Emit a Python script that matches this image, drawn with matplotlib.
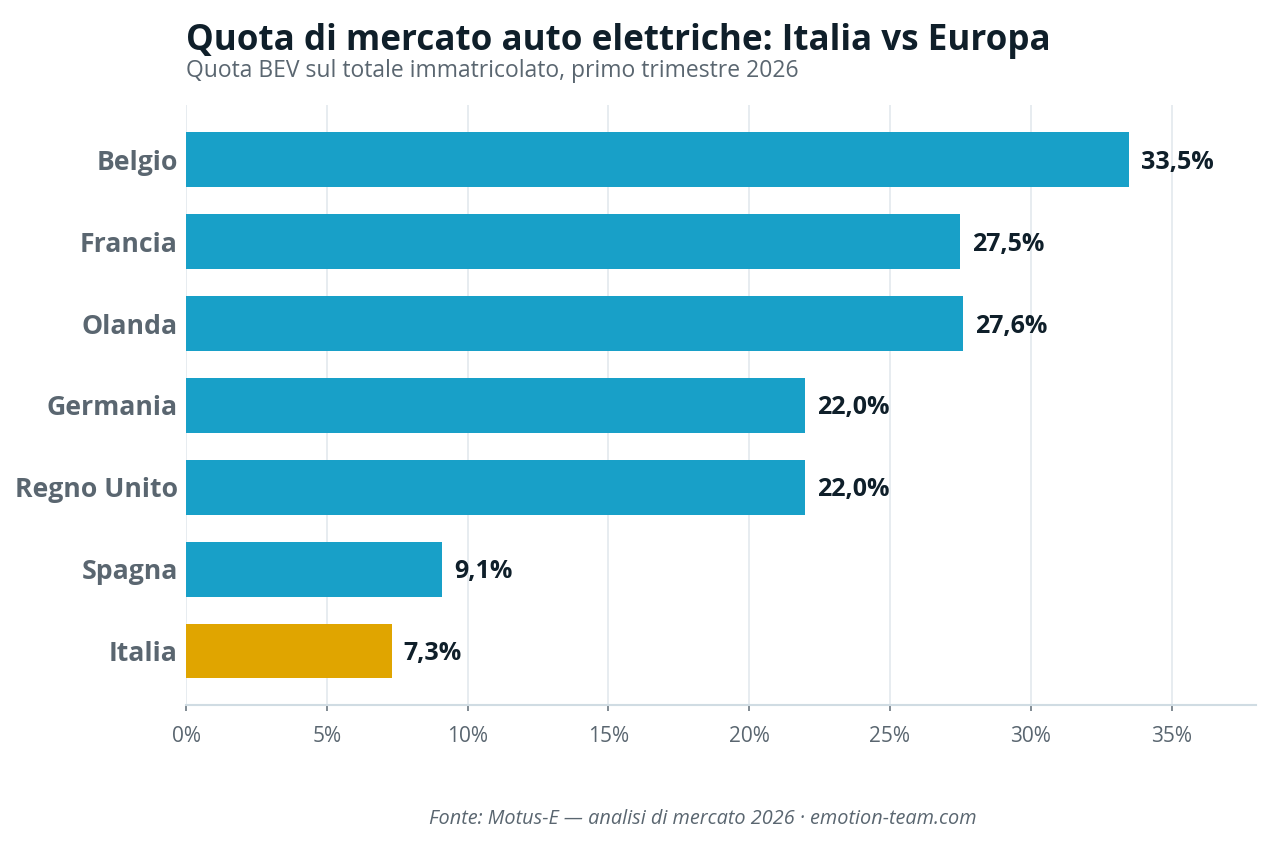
import matplotlib
matplotlib.use("Agg")
import matplotlib.pyplot as plt

categories = ["Belgio", "Francia", "Olanda", "Germania", "Regno Unito", "Spagna", "Italia"]
values = [33.5, 27.5, 27.6, 22.0, 22.0, 9.1, 7.3]
value_labels = ["33,5%", "27,5%", "27,6%", "22,0%", "22,0%", "9,1%", "7,3%"]
xticks = [0, 5, 10, 15, 20, 25, 30, 35]
xtick_labels = ["0%", "5%", "10%", "15%", "20%", "25%", "30%", "35%"]

BLUE = "#18A0C8"
GOLD = "#E0A500"
DARK = "#0F1F2A"
GRAY = "#5A6670"
FONT = ["Open Sans", "DejaVu Sans"]

plt.rcParams["font.family"] = FONT

fig = plt.figure(figsize=(12.7, 8.47), dpi=100)
ax = fig.add_axes([186/1270, 1-705/847, (1256-186)/1270, (705-105)/847])

n = len(categories)
ypos = list(range(n - 1, -1, -1))
colors = [GOLD if c == "Italia" else BLUE for c in categories]
ax.barh(ypos, values, height=0.67, color=colors, zorder=3)

for y, v, lab in zip(ypos, values, value_labels):
    ax.text(v + 0.42, y - 0.03, lab, va="center", ha="left", fontsize=18,
            fontweight="bold", color=DARK)

ax.set_xlim(0, 38)
ax.set_ylim(-0.66, n - 1 + 0.67)
ax.set_yticks(ypos)
ax.set_yticklabels(categories, fontsize=19.2, fontweight="bold", color=GRAY)
ax.set_xticks(xticks)
ax.set_xticklabels(xtick_labels, fontsize=15, color=GRAY)
ax.tick_params(axis="y", length=0, pad=6)
ax.tick_params(axis="x", length=4, width=1.2, color="#6B7780", pad=11)
ax.grid(axis="x", color="#E3E9ED", linewidth=1.2, zorder=0)
for s in ["top", "right", "left"]:
    ax.spines[s].set_visible(False)
ax.spines["bottom"].set_color("#D0DCE3")
ax.spines["bottom"].set_linewidth(1.5)

fig.text(186/1270, 1-50/847, "Quota di mercato auto elettriche: Italia vs Europa",
         fontsize=25.2, fontweight="bold", color=DARK, ha="left", va="baseline")
fig.text(186/1270, 1-77/847, "Quota BEV sul totale immatricolato, primo trimestre 2026",
         fontsize=16.5, color=GRAY, ha="left", va="baseline")
fig.text(703/1270, 1-819/847, "Fonte: Motus-E — analisi di mercato 2026 · emotion-team.com",
         fontsize=14.3, style="italic", color=GRAY, ha="center", va="center")

fig.savefig("out.png", dpi=100, facecolor="white")
